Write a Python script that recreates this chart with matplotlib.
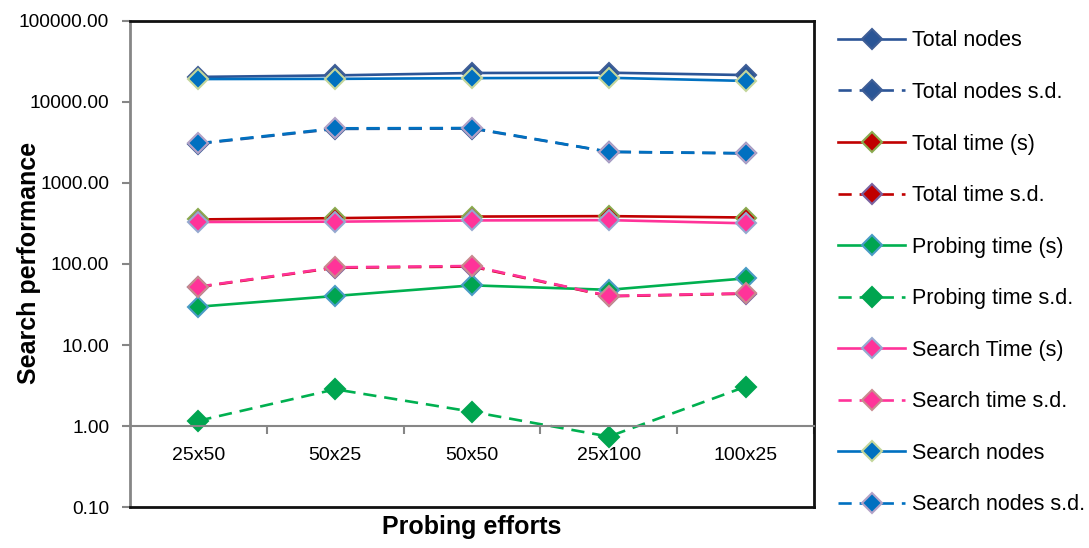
import matplotlib.pyplot as plt
from matplotlib.ticker import FixedLocator, FuncFormatter, NullFormatter

plt.rcParams['font.family'] = ['Liberation Sans', 'DejaVu Sans']

# probing effort settings on the x axis
efforts = ['25x50', '50x25', '50x50', '25x100', '100x25']

total_nodes = [20400, 21300, 22800, 23000, 21500]
total_nodes_sd = [3050, 4650, 4700, 2420, 2320]
total_time = [355, 368, 385, 390, 375]
total_time_sd = [52, 90, 93, 40, 43]
probing_time = [29.7, 40.3, 54.5, 48.0, 66.5]
probing_time_sd = [1.16, 2.84, 1.50, 0.74, 3.06]
search_time = [330, 333, 345, 348, 318]
search_time_sd = [52.5, 91, 94.5, 40.3, 43.5]
search_nodes = [19200, 19300, 19700, 19900, 18200]
search_nodes_sd = [3090, 4730, 4770, 2430, 2330]

# (label, values, line colour, marker face, marker edge, dashed)
series = [
    ('Total nodes', total_nodes, '#2C5597', '#2A5596', '#3E5E96', False),
    ('Total nodes s.d.', total_nodes_sd, '#2C5597', '#2A5596', '#3E5E96', True),
    ('Total time (s)', total_time, '#C00000', '#C00000', '#8AAA4E', False),
    ('Total time s.d.', total_time_sd, '#C00000', '#C00000', '#7A62A0', True),
    ('Probing time (s)', probing_time, '#00B050', '#00A550', '#4A9CC6', False),
    ('Probing time s.d.', probing_time_sd, '#00B050', '#00A550', '#00A550', True),
    ('Search Time (s)', search_time, '#FF3399', '#FF3399', '#95A9D0', False),
    ('Search time s.d.', search_time_sd, '#FF3399', '#FF3399', '#C98A8E', True),
    ('Search nodes', search_nodes, '#0070C0', '#0070C0', '#C3D69B', False),
    ('Search nodes s.d.', search_nodes_sd, '#0070C0', '#0070C0', '#B3A2C7', True),
]

fig = plt.figure(figsize=(10.89, 5.48), dpi=100)
ax = fig.add_axes([0.1194, 0.0748, 0.6281, 0.8869])

x = list(range(len(efforts)))
for label, vals, lc, mfc, mec, dashed in series:
    ax.plot(x, vals, color=lc, lw=1.9, ls=(0, (5, 3)) if dashed else '-',
            marker='D', markersize=10, markerfacecolor=mfc,
            markeredgecolor=mec, markeredgewidth=1.5, label=label)

ax.set_yscale('log')
ax.set_ylim(0.1, 100000)
ax.set_xlim(-0.5, len(efforts) - 0.5)

ax.yaxis.set_major_locator(FixedLocator([0.1, 1, 10, 100, 1000, 10000, 100000]))
ax.yaxis.set_minor_locator(FixedLocator([]))
ax.yaxis.set_major_formatter(FuncFormatter(lambda v, p: f'{v:.2f}'))
ax.tick_params(axis='y', which='major', direction='out', length=6, width=1.5,
               color='#868686', labelsize=13.8, pad=9)

# horizontal axis crosses at 1.0, box bottom stays at 0.1
ax.spines['bottom'].set_position(('data', 1))
ax.spines['bottom'].set_color('#868686')
ax.spines['bottom'].set_linewidth(1.5)
ax.spines['left'].set_color('#868686')
ax.spines['left'].set_linewidth(2)
for s in ('top', 'right'):
    ax.spines[s].set_color('#111111')
    ax.spines[s].set_linewidth(2)
ax.plot([0, 1], [0, 0], transform=ax.transAxes, color='#111111', lw=2,
        clip_on=False, zorder=5)

ax.set_xticks(x)
ax.set_xticklabels(efforts)
ax.set_xticks([i + 0.5 for i in range(len(efforts))], minor=True)
ax.xaxis.set_minor_formatter(NullFormatter())
ax.tick_params(axis='x', which='major', length=0, labelsize=14, pad=15)
ax.tick_params(axis='x', which='minor', direction='out', length=6, width=1.5,
               color='#868686')

ax.set_ylabel('Search performance', fontsize=18, fontweight='bold')
ax.yaxis.set_label_coords(-0.130, 0.503)
ax.set_xlabel('Probing efforts', fontsize=18, fontweight='bold')
ax.xaxis.set_label_coords(0.5, -0.016)

fig.legend(loc='upper left', bbox_to_anchor=(0.7616, 0.9603), frameon=False,
           fontsize=15.5, handlelength=3.12, handletextpad=0.33, labelspacing=1.42,
           borderaxespad=0)

fig.savefig('out.png', dpi=100)
